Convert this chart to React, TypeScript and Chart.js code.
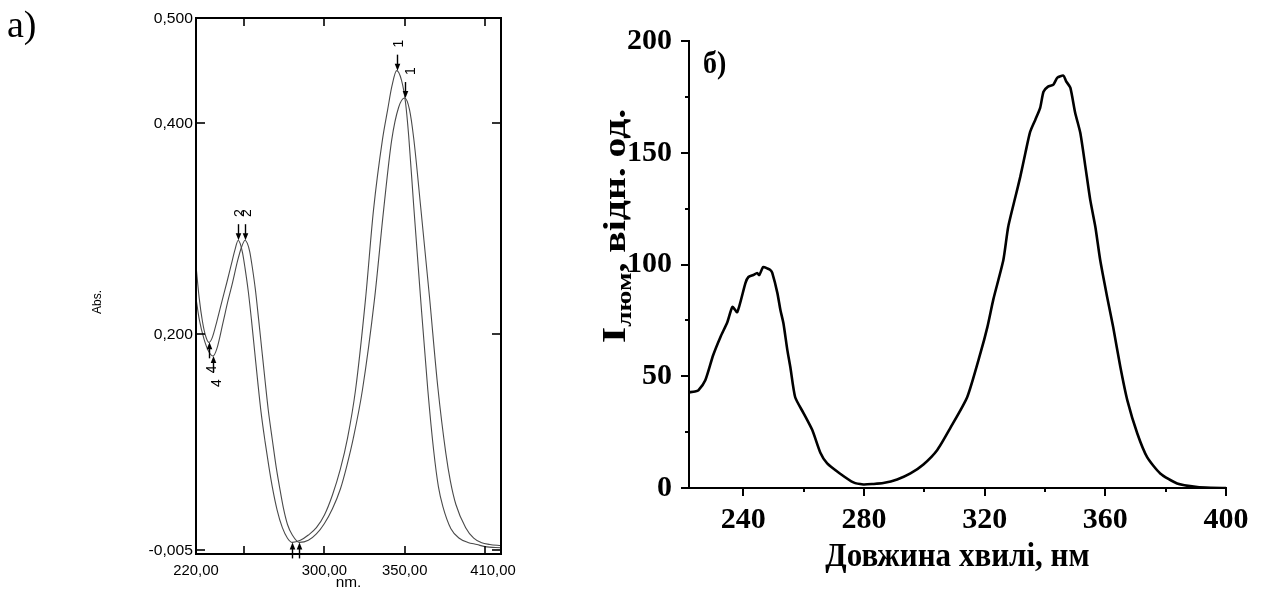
import React, { useEffect, useRef } from 'react';
import { Chart, registerables } from 'chart.js';

Chart.register(...registerables);

// ---------- Panel a) absorption spectra ----------
const absNmA = [220, 222, 224, 226, 228, 230, 233, 236, 239.4, 242, 244.3, 246.3, 247.5, 249, 250.5, 252.6, 254.5, 256.5, 258.5, 260.5, 263, 265.5, 267.5, 270.5, 273.8, 277, 280, 285, 290, 295, 300, 305, 310, 314.4, 319.4, 325.6, 330.6, 336.2, 339.4, 342, 345, 348, 350.5, 352.5, 355.6, 359.7, 364.4, 368, 371, 373.8, 378.8, 384, 389.4, 395, 400, 410];
const absA = [0.265, 0.234, 0.212, 0.198, 0.192, 0.196, 0.212, 0.230, 0.250, 0.266, 0.280, 0.289, 0.286, 0.277, 0.263, 0.240, 0.214, 0.184, 0.154, 0.126, 0.098, 0.073, 0.055, 0.033, 0.016, 0.006, 0.002, 0.004, 0.009, 0.016, 0.028, 0.047, 0.072, 0.101, 0.147, 0.233, 0.318, 0.385, 0.413, 0.435, 0.450, 0.441, 0.420, 0.388, 0.322, 0.238, 0.147, 0.090, 0.055, 0.036, 0.015, 0.006, 0.002, 0.000, -0.002, -0.003];

const absNmB = [220, 222, 225, 228, 230.6, 233, 237, 240, 242.5, 246, 248.5, 250.6, 252, 253.5, 255, 257, 259, 261, 263, 265, 267.5, 270, 272, 274.4, 277, 280, 284.4, 290, 295, 300, 305, 310, 314, 318, 323.7, 331.2, 336.9, 341.9, 346.2, 350, 353, 355.6, 360, 365.4, 370.6, 375.6, 378.5, 381.9, 388, 393, 397.5, 403, 410];
const absB = [0.234, 0.214, 0.195, 0.183, 0.179, 0.186, 0.212, 0.232, 0.247, 0.270, 0.283, 0.289, 0.286, 0.278, 0.264, 0.242, 0.214, 0.185, 0.156, 0.128, 0.100, 0.073, 0.055, 0.035, 0.019, 0.009, 0.002, 0.004, 0.010, 0.020, 0.034, 0.053, 0.075, 0.101, 0.147, 0.233, 0.318, 0.384, 0.415, 0.424, 0.413, 0.386, 0.320, 0.236, 0.150, 0.087, 0.060, 0.038, 0.016, 0.006, 0.002, 0.000, -0.001];

const absTickValues = [0.5, 0.4, 0.2, -0.005];
const absTickLabels = ['0,500', '0,400', '0,200', '-0,005'];
const nmTickValues = [250, 300, 350, 400];
const nmLabelValues = [220, 300, 350, 405];
const nmLabelTexts = ['220,00', '300,00', '350,00', '410,00'];

// peak / valley markers (arrows) in data units
const markerNm = [345, 350, 246.3, 250.6, 228, 230.6, 280, 284.4];
const markerAbs = [0.450, 0.424, 0.289, 0.289, 0.192, 0.179, 0.002, 0.002];
const markerDir = [1, 1, 1, 1, -1, -1, -1, -1]; // 1 = arrow pointing down
const markerLabel = ['1', '1', '2', '2', '4', '4', '', ''];
const markerLabelDx = [0, 4, 0, 0, 1, 2, 0, 0];

// ---------- Panel б) luminescence spectrum ----------
const plNm = [222, 224, 225.1, 227.4, 230, 232.4, 234.7, 236.4, 238, 240.7, 241.7, 243.3, 244.6, 245.3, 246.6, 248, 249, 249.6, 251.3, 252.3, 253.3, 254.6, 255.6, 257.2, 260, 262.9, 265.5, 267.8, 272, 276.5, 279.8, 283, 286.4, 291, 295.4, 299.7, 304.3, 308.6, 314.2, 318.6, 320.9, 322.9, 326.2, 327.8, 330.2, 331.8, 333.5, 335.1, 336.8, 338.4, 339.5, 341, 342.8, 344.1, 346.1, 347, 348.4, 350, 351.7, 353.4, 355, 356.7, 358.3, 360.6, 362.6, 365, 367.3, 370.6, 373.9, 378.2, 383.8, 390.5, 395, 400];
const plI = [42.8, 43.2, 43.7, 48.2, 59.4, 67.5, 74.2, 81, 78.7, 91.7, 94.4, 95.3, 96.2, 95.3, 98.9, 98.2, 97.5, 96.2, 87.2, 79.6, 73.7, 61.7, 54, 40.6, 33.4, 25.8, 15.9, 11, 6.5, 2.5, 1.6, 1.8, 2.2, 3.8, 6.5, 10.5, 17, 26.8, 40.6, 60.3, 72, 84.5, 102, 116.8, 130.3, 139.2, 149.9, 159.4, 164.8, 170.1, 177.3, 179.6, 180.5, 183.6, 184.5, 182, 179.1, 167.9, 158.9, 143.7, 128.9, 116.8, 102, 85.5, 72, 54, 39.2, 24.4, 13.7, 6.5, 2, 0.4, 0.1, 0];
const plXTicks = [240, 280, 320, 360, 400];
const plXMinor = [260, 300, 340, 380];
const plYTicks = [0, 50, 100, 150, 200];
const plYMinor = [25, 75, 125, 175];

const SANS = '"Liberation Sans", Arial, sans-serif';
const SERIF = '"Liberation Serif", "Times New Roman", serif';

function line(ctx: CanvasRenderingContext2D, x1: number, y1: number, x2: number, y2: number) {
  ctx.beginPath();
  ctx.moveTo(x1, y1);
  ctx.lineTo(x2, y2);
  ctx.stroke();
}

function stretchedText(ctx: CanvasRenderingContext2D, text: string, x: number, y: number, sx: number) {
  ctx.save();
  ctx.translate(x, y);
  ctx.scale(sx, 1);
  ctx.fillText(text, 0, 0);
  ctx.restore();
}

const leftDecor = {
  id: 'leftDecor',
  afterDraw(chart: any) {
    const { ctx, chartArea: a, scales } = chart;
    const x = scales.x;
    const y = scales.y;
    ctx.save();
    ctx.strokeStyle = '#000';
    ctx.fillStyle = '#000';
    ctx.lineWidth = 2;
    ctx.strokeRect(a.left, a.top, a.right - a.left, a.bottom - a.top);

    // y ticks and labels
    ctx.lineWidth = 1.6;
    ctx.font = `14px ${SANS}`;
    ctx.textAlign = 'right';
    ctx.textBaseline = 'middle';
    absTickValues.forEach((v, i) => {
      const py = Math.round(y.getPixelForValue(v));
      if (v < 0.49) {
        line(ctx, a.left, py, a.left + 9, py);
        line(ctx, a.right - 9, py, a.right, py);
      }
      stretchedText(ctx, absTickLabels[i], a.left - 3, py + 1, 1.12);
    });

    // x ticks (inward, top and bottom)
    nmTickValues.forEach((v) => {
      const px = Math.round(x.getPixelForValue(v));
      line(ctx, px, a.top, px, a.top + 8);
      line(ctx, px, a.bottom, px, a.bottom - 8);
    });
    ctx.textAlign = 'center';
    ctx.textBaseline = 'alphabetic';
    ctx.font = `14px ${SANS}`;
    nmLabelValues.forEach((v, i) => {
      const px = x.getPixelForValue(v);
      stretchedText(ctx, nmLabelTexts[i], px, a.bottom + 21, 1.06);
    });
    // axis titles
    ctx.font = `14px ${SANS}`;
    stretchedText(ctx, 'nm.', (a.left + a.right) / 2, a.bottom + 33, 1.1);
    ctx.save();
    ctx.translate(101, (a.top + a.bottom) / 2 + 16);
    ctx.rotate(-Math.PI / 2);
    ctx.font = `12px ${SANS}`;
    ctx.fillText('Abs.', 0, 0);
    ctx.restore();

    // markers
    markerNm.forEach((nm, i) => {
      const px = Math.round(x.getPixelForValue(nm)) + 0.5;
      const tip = y.getPixelForValue(markerAbs[i]);
      const d = markerDir[i];
      ctx.lineWidth = 1.4;
      line(ctx, px, tip - d * 16, px, tip - d * 5);
      ctx.beginPath();
      ctx.moveTo(px, tip);
      ctx.lineTo(px - 2.8, tip - d * 7);
      ctx.lineTo(px + 2.8, tip - d * 7);
      ctx.closePath();
      ctx.fill();
      if (markerLabel[i]) {
        ctx.save();
        ctx.translate(px + markerLabelDx[i] + 5, tip - d * 27);
        ctx.rotate(-Math.PI / 2);
        ctx.font = `14px ${SANS}`;
        ctx.textAlign = 'center';
        ctx.textBaseline = 'alphabetic';
        ctx.fillText(markerLabel[i], 0, 0);
        ctx.restore();
      }
    });

    // panel letter
    ctx.font = `38px ${SERIF}`;
    ctx.textAlign = 'left';
    ctx.textBaseline = 'alphabetic';
    ctx.fillText('а)', 7, 37);
    ctx.restore();
  },
};

const rightDecor = {
  id: 'rightDecor',
  afterDraw(chart: any) {
    const { ctx, chartArea: a, scales } = chart;
    const x = scales.x;
    const y = scales.y;
    ctx.save();
    ctx.strokeStyle = '#000';
    ctx.fillStyle = '#000';
    ctx.lineWidth = 2;
    plYTicks.forEach((v) => {
      const py = Math.round(y.getPixelForValue(v));
      line(ctx, a.left - 8, py, a.left, py);
    });
    plYMinor.forEach((v) => {
      const py = Math.round(y.getPixelForValue(v));
      line(ctx, a.left - 4, py, a.left, py);
    });
    plXTicks.forEach((v) => {
      const px = Math.round(x.getPixelForValue(v));
      line(ctx, px, a.bottom, px, a.bottom + 8);
    });
    plXMinor.forEach((v) => {
      const px = Math.round(x.getPixelForValue(v));
      line(ctx, px, a.bottom, px, a.bottom + 4);
    });

    // x title
    ctx.font = `bold 32px ${SERIF}`;
    ctx.textAlign = 'center';
    ctx.textBaseline = 'alphabetic';
    ctx.save();
    ctx.translate((a.left + a.right) / 2, a.bottom + 78);
    ctx.scale(0.97, 1.08);
    ctx.fillText('Довжина хвилі, нм', 0, 0);
    ctx.restore();

    // y title with subscript
    ctx.save();
    ctx.translate(a.left - 64, 226);
    ctx.rotate(-Math.PI / 2);
    ctx.scale(1.24, 1);
    const fMain = `bold 32px ${SERIF}`;
    const fBig = `bold 34px ${SERIF}`;
    const fSub = `bold 22px ${SERIF}`;
    ctx.font = fBig;
    const wI = ctx.measureText('I').width;
    ctx.font = fSub;
    const wS = ctx.measureText('люм').width;
    ctx.font = fMain;
    const wR = ctx.measureText(', відн. од.').width;
    let cx = -(wI + wS + wR) / 2;
    ctx.textAlign = 'left';
    ctx.font = fBig;
    ctx.fillText('I', cx, 0);
    cx += wI;
    ctx.font = fSub;
    ctx.fillText('люм', cx, 6);
    cx += wS;
    ctx.font = fMain;
    ctx.fillText(', відн. од.', cx, 0);
    ctx.restore();

    // panel letter
    ctx.font = `bold 28px ${SERIF}`;
    ctx.textAlign = 'left';
    ctx.save();
    ctx.translate(a.left + 14, 73);
    ctx.scale(1, 1.1);
    ctx.fillText('б)', 0, 0);
    ctx.restore();
    ctx.restore();
  },
};

export default function App() {
  const leftRef = useRef<HTMLCanvasElement>(null);
  const rightRef = useRef<HTMLCanvasElement>(null);

  useEffect(() => {
    const left = new Chart(leftRef.current as HTMLCanvasElement, {
      type: 'line',
      data: {
        datasets: [
          {
            data: absNmA.map((v, i) => ({ x: v, y: absA[i] })),
            borderColor: '#4a4a4a',
            borderWidth: 1.1,
            pointRadius: 0,
            cubicInterpolationMode: 'monotone',
          },
          {
            data: absNmB.map((v, i) => ({ x: v, y: absB[i] })),
            borderColor: '#4a4a4a',
            borderWidth: 1.1,
            pointRadius: 0,
            cubicInterpolationMode: 'monotone',
          },
        ],
      },
      options: {
        animation: false,
        responsive: false,
        maintainAspectRatio: false,
        devicePixelRatio: 1,
        layout: { padding: { left: 196, right: 59, top: 18, bottom: 36 } },
        plugins: { legend: { display: false }, tooltip: { enabled: false } },
        scales: {
          x: { type: 'linear', min: 220, max: 410, display: false },
          y: { type: 'linear', min: -0.009, max: 0.5, display: false },
        },
      },
      plugins: [leftDecor],
    } as any);

    const right = new Chart(rightRef.current as HTMLCanvasElement, {
      type: 'line',
      data: {
        datasets: [
          {
            data: plNm.map((v, i) => ({ x: v, y: plI[i] })),
            borderColor: '#000',
            borderWidth: 2.6,
            pointRadius: 0,
            tension: 0.2,
          },
        ],
      },
      options: {
        animation: false,
        responsive: false,
        maintainAspectRatio: false,
        devicePixelRatio: 1,
        layout: { padding: { left: 0, right: 39, top: 41, bottom: 0 } },
        plugins: { legend: { display: false }, tooltip: { enabled: false } },
        scales: {
          x: {
            type: 'linear',
            min: 222,
            max: 400,
            afterBuildTicks: (s: any) => {
              s.ticks = plXTicks.map((v) => ({ value: v }));
            },
            afterFit: (s: any) => {
              s.height = 102;
            },
            grid: { display: false, drawTicks: false },
            border: { display: true, color: '#000', width: 2 },
            ticks: {
              color: '#000',
              padding: 14,
              maxRotation: 0,
              font: { family: SERIF, size: 30, weight: 'bold' },
            },
          },
          y: {
            type: 'linear',
            min: 0,
            max: 200,
            afterBuildTicks: (s: any) => {
              s.ticks = plYTicks.map((v) => ({ value: v }));
            },
            afterFit: (s: any) => {
              s.width = 129;
            },
            grid: { display: false, drawTicks: false },
            border: { display: true, color: '#000', width: 2 },
            ticks: {
              color: '#000',
              padding: 17,
              font: { family: SERIF, size: 30, weight: 'bold' },
            },
          },
        },
      },
      plugins: [rightDecor],
    } as any);

    return () => {
      left.destroy();
      right.destroy();
    };
  }, []);

  return (
    <div style={{ position: 'absolute', left: 0, top: 0, width: 1265, height: 590, background: '#fff' }}>
      <canvas ref={leftRef} width={560} height={590} style={{ position: 'absolute', left: 0, top: 0, width: 560, height: 590 }} />
      <canvas ref={rightRef} width={705} height={590} style={{ position: 'absolute', left: 560, top: 0, width: 705, height: 590 }} />
    </div>
  );
}
